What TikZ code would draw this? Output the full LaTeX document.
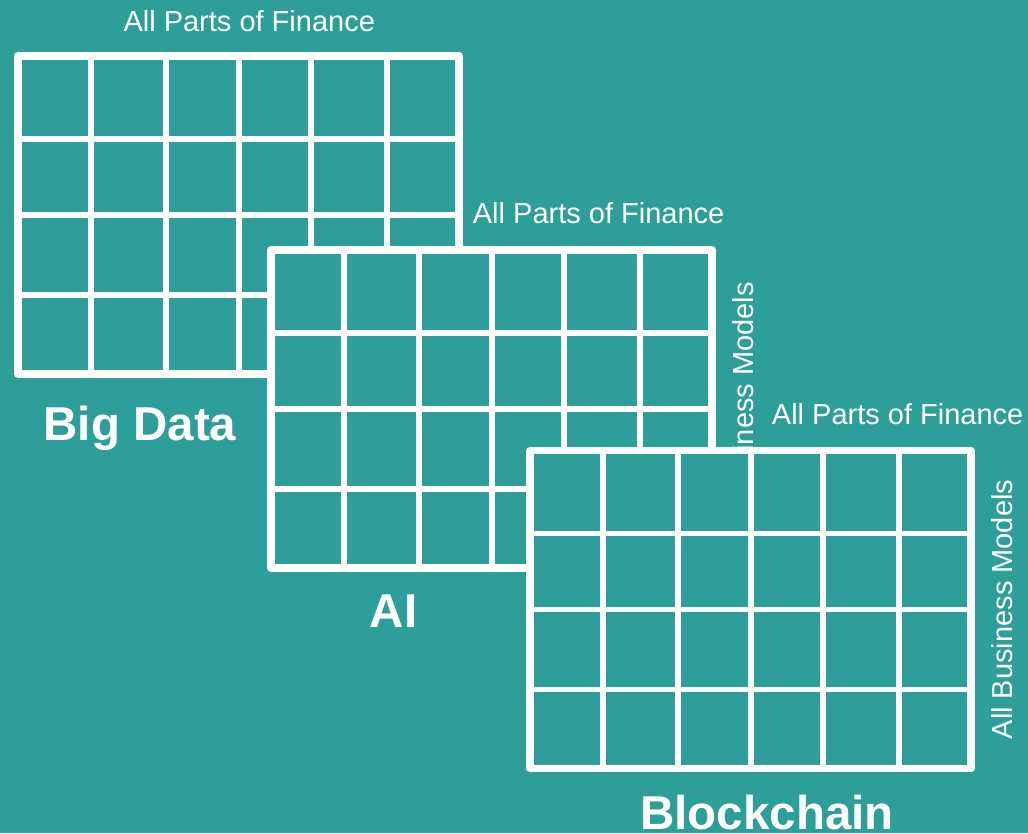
\documentclass[tikz,border=0pt]{standalone}
\usepackage{fontspec}
\setmainfont{Liberation Sans}
\definecolor{tealbg}{RGB}{46,158,154}
\begin{document}
\begin{tikzpicture}[x=1pt,y=-1pt,
  cellfill/.style={fill=tealbg},
  gridline/.style={draw=white, line width=5.5pt},
  gridframe/.style={draw=white, line width=7.5pt, line join=round},
  axislabel/.style={text=white, inner sep=0pt, font=\fontsize{29}{29}\selectfont},
  techlabel/.style={text=white, inner sep=0pt, font=\bfseries\fontsize{47.5}{47.5}\selectfont}]
  % page and background
  \fill[tealbg] (0,0) rectangle (1028,833);
  \useasboundingbox (0,0) rectangle (1028,833);

  % one 6x4 matrix: columns and rows at fixed offsets inside a 441x318 frame
  \newcommand{\matrixgrid}[2]{%
    \begin{scope}[shift={(#1,#2)}]
      \fill[cellfill] (0,0) rectangle (441,318);
      \foreach \cx in {73,148,221,293,369}
        \draw[gridline] (\cx,0) -- (\cx,318);
      \foreach \ry in {83,159,239}
        \draw[gridline] (0,\ry) -- (441,\ry);
      \draw[gridframe] (0,0) rectangle (441,318);
    \end{scope}}

  % Big Data
  \matrixgrid{18}{56}
  \node[axislabel, anchor=base west] (finA) at (123.3,31) {All Parts of Finance};
  \node[techlabel, anchor=base] (bigdata) at (140,440) {Big Data};

  % AI
  \matrixgrid{271}{250}
  \node[axislabel, anchor=base west] (finB) at (472.7,223.5) {All Parts of Finance};
  \node[axislabel, anchor=base, rotate=90] (bizB) at (753,412) {All Business Models};
  \node[techlabel, anchor=base] (ai) at (393.5,627) {AI};

  % Blockchain
  \matrixgrid{530}{450.5}
  \node[axislabel, anchor=base west] (finC) at (771.7,424) {All Parts of Finance};
  \node[axislabel, anchor=base, rotate=90] (bizC) at (1012,609.5) {All Business Models};
  \node[techlabel, anchor=base] (blockchain) at (767,829) {Blockchain};
\end{tikzpicture}
\end{document}
